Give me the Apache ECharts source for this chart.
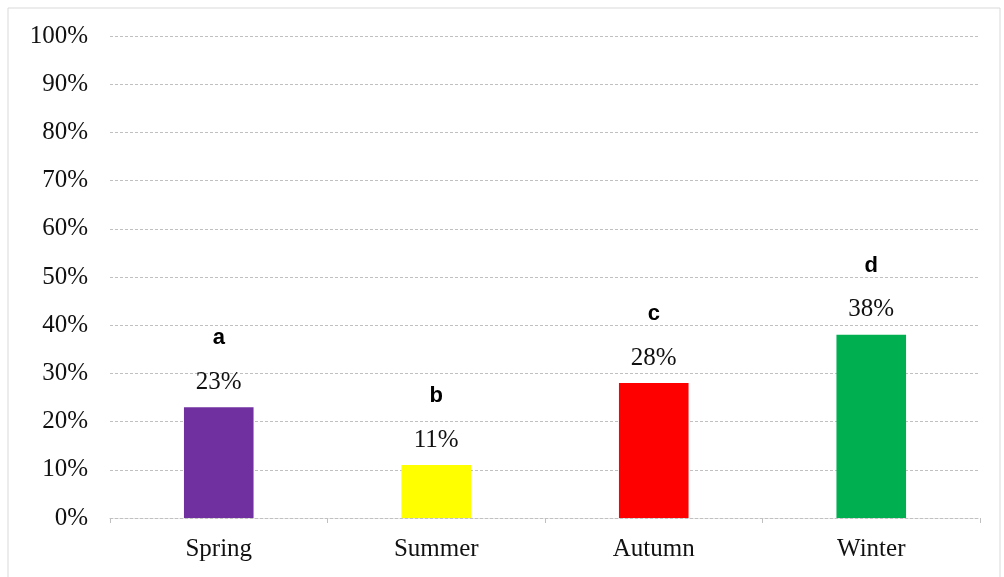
<!DOCTYPE html>
<html>
<head>
<meta charset="utf-8">
<script src="https://cdn.jsdelivr.net/npm/echarts@6/dist/echarts.min.js"></script>
<style>
  html, body { margin: 0; padding: 0; background: #fff; }
  #chart { width: 1004px; height: 577px; }
</style>
</head>
<body>
<div id="chart"></div>
<script>
// data
const seasons = ['Spring', 'Summer', 'Autumn', 'Winter'];
const shares = [23, 11, 28, 38];
const letters = ['a', 'b', 'c', 'd'];
const barColors = ['#7030A0', '#FFFF00', '#FF0000', '#00B050'];

const chart = echarts.init(document.getElementById('chart'));

const option = {
  animation: false,
  graphic: [{
    type: 'rect',
    shape: { x: 8, y: 8, width: 992, height: 570 },
    style: { fill: 'none', stroke: '#d9d9d9', lineWidth: 1 }
  }],
  grid: { left: 110, right: 24, top: 36, bottom: 59 },
  xAxis: {
    type: 'category',
    data: seasons,
    axisLine: { lineStyle: { color: '#c0c0c0', type: [3, 2], width: 1 } },
    axisTick: { show: true, length: 5, lineStyle: { color: '#c0c0c0' } },
    axisLabel: { fontFamily: 'Liberation Serif', fontSize: 25, color: '#111', margin: 19 }
  },
  yAxis: {
    type: 'value',
    min: 0,
    max: 100,
    interval: 10,
    axisLine: { show: false },
    axisTick: { show: false },
    axisLabel: {
      formatter: '{value}%',
      fontFamily: 'Liberation Serif', fontSize: 25, color: '#111', margin: 22
    },
    splitLine: { lineStyle: { color: '#c0c0c0', type: [3, 2], width: 1 } }
  },
  series: [{
    type: 'bar',
    barWidth: '32%',
    data: shares.map((v, i) => ({ value: v, itemStyle: { color: barColors[i] } })),
    label: {
      show: true,
      position: 'top',
      distance: 11,
      formatter: p => '{l|' + letters[p.dataIndex] + '}\n{p|' + p.value + '%}',
      rich: {
        l: { fontFamily: 'Liberation Sans', fontWeight: 'bold', fontSize: 22, color: '#000', lineHeight: 60 },
        p: { fontFamily: 'Liberation Serif', fontSize: 25, color: '#111', lineHeight: 28 }
      }
    }
  }]
};

chart.setOption(option);
</script>
</body>
</html>
